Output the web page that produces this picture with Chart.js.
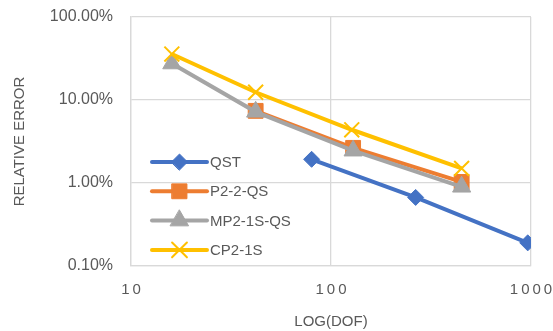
<!DOCTYPE html>
<html>
<head>
<meta charset="utf-8">
<script src="https://cdn.jsdelivr.net/npm/chart.js@4/dist/chart.umd.min.js"></script>
<style>
html,body{margin:0;padding:0;background:#fff;}
#wrap{width:553px;height:331px;}
</style>
</head>
<body>
<div id="wrap"><canvas id="c" width="553" height="331"></canvas></div>
<script>
const seriesNames = ['QST', 'P2-2-QS', 'MP2-1S-QS', 'CP2-1S'];
const dofQST = [80, 265, 963];
const errQST = [0.0193, 0.0067, 0.0019];
const dofP2 = [42, 129, 450];
const errP2 = [0.074, 0.0265, 0.0103];
const dofMP2 = [16, 42, 129, 450];
const errMP2 = [0.275, 0.072, 0.0245, 0.0090];
const dofCP2 = [16, 42, 127, 450];
const errCP2 = [0.358, 0.124, 0.0438, 0.0150];
const xTicks = [10, 100, 1000];
const yTicks = [0.001, 0.01, 0.1, 1];

const colors = ['#4472C4', '#ED7D31', '#A5A5A5', '#FFC000'];
const styles = ['rectRot', 'rect', 'triangle', 'crossRot'];
const radii = [8, 10.5, 10.5, 10.5];

function pts(xs, ys){ return xs.map((x,i)=>({x:x, y:ys[i]})); }
const allX = [dofQST, dofP2, dofMP2, dofCP2];
const allY = [errQST, errP2, errMP2, errCP2];

const datasets = seriesNames.map((n,i)=>({
  label: n,
  data: pts(allX[i], allY[i]),
  borderColor: colors[i],
  backgroundColor: colors[i],
  pointBackgroundColor: colors[i],
  pointBorderColor: colors[i],
  pointStyle: styles[i],
  pointRadius: radii[i],
  pointBorderWidth: styles[i]==='crossRot' ? 2 : 1,
  borderWidth: 4,
  showLine: true,
  fill: false,
  order: 4 - i
}));

const legendPlugin = {
  id: 'inLegend',
  afterDatasetsDraw(chart){
    const ctx = chart.ctx;
    const a = chart.chartArea;
    const x0 = a.left + 21, x1 = a.left + 76, tx = a.left + 79;
    const y0 = a.top + 145, dy = 29.3;
    ctx.save();
    seriesNames.forEach((n,i)=>{
      const y = y0 + i*dy;
      ctx.strokeStyle = colors[i];
      ctx.lineWidth = 4;
      ctx.lineCap = 'round';
      ctx.beginPath(); ctx.moveTo(x0, y); ctx.lineTo(x1, y); ctx.stroke();
      ctx.fillStyle = colors[i];
      ctx.strokeStyle = colors[i];
      ctx.lineWidth = styles[i]==='crossRot' ? 2 : 1;
      Chart.helpers.drawPoint(ctx, {pointStyle: styles[i], radius: radii[i], rotation: 0, borderWidth: ctx.lineWidth}, (x0+x1)/2, y);
      ctx.fillStyle = '#595959';
      ctx.font = '15px "Liberation Sans", Arial, sans-serif';
      ctx.textBaseline = 'middle';
      ctx.textAlign = 'left';
      ctx.fillText(n, tx, y + 1);
    });
    ctx.restore();
  }
};

const gridColor = '#d9d9d9';
new Chart(document.getElementById('c'), {
  type: 'scatter',
  data: { datasets },
  plugins: [legendPlugin],
  options: {
    responsive: false,
    animation: false,
    devicePixelRatio: 1,
    layout: { padding: { top: 17, right: 22, left: 0, bottom: 0 } },
    plugins: { legend: { display: false }, tooltip: { enabled: false } },
    scales: {
      x: {
        type: 'logarithmic',
        min: 10, max: 1000,
        afterBuildTicks: s => { s.ticks = xTicks.map(v=>({value:v})); },
        afterFit: s => { s.height = 65; s.paddingRight = 0; s.paddingLeft = 0; },
        grid: { color: gridColor, lineWidth: 1.3, drawTicks: false },
        border: { display: true, color: gridColor, width: 1.3 },
        ticks: {
          color: '#595959',
          font: { family: '"Liberation Sans", Arial, sans-serif', size: 15 },
          padding: 15,
          maxRotation: 0,
          autoSkip: false,
          callback: v => String(v).split('').join('\u2009')
        },
        title: {
          display: true, text: 'LOG(DOF)', color: '#595959',
          font: { family: '"Liberation Sans", Arial, sans-serif', size: 15 },
          padding: { top: 0, bottom: 0 }
        }
      },
      y: {
        type: 'logarithmic',
        min: 0.001, max: 1,
        afterBuildTicks: s => { s.ticks = yTicks.map(v=>({value:v})); },
        afterFit: s => { s.width = 131; s.paddingTop = 0; s.paddingBottom = 0; },
        grid: { color: gridColor, lineWidth: 1.3, drawTicks: false },
        border: { display: true, color: gridColor, width: 1.3 },
        ticks: {
          color: '#595959',
          font: { family: '"Liberation Sans", Arial, sans-serif', size: 16 },
          padding: 18,
          autoSkip: false,
          callback: v => (v*100).toFixed(2) + '%'
        },
        title: {
          display: true, text: 'RELATIVE ERROR', color: '#595959',
          font: { family: '"Liberation Sans", Arial, sans-serif', size: 15 },
          padding: { top: 11, bottom: 0 }
        }
      }
    }
  }
});
</script>
</body>
</html>
